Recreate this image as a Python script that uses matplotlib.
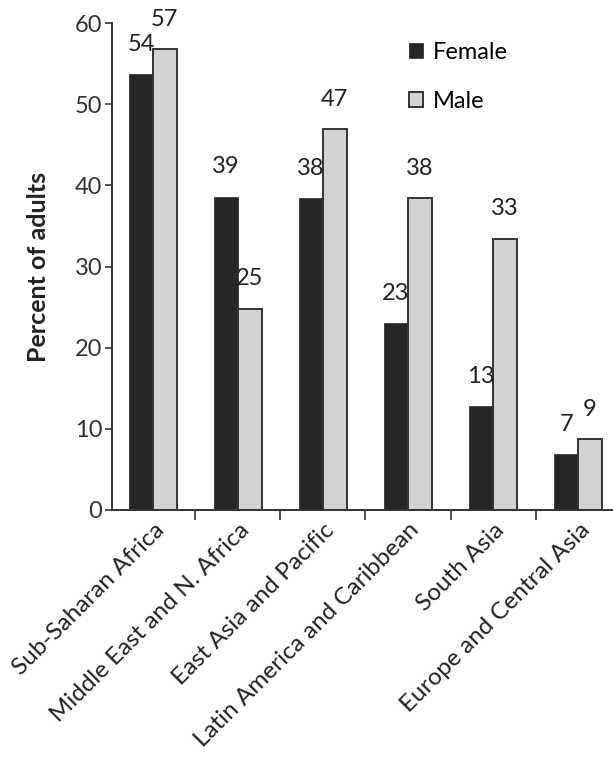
import numpy as np
import matplotlib
matplotlib.use("Agg")
import matplotlib.pyplot as plt
import matplotlib.transforms as mtransforms

plt.rcParams["font.family"] = ["Lato", "DejaVu Sans"]

# data
regions = ["Sub-Saharan Africa", "Middle East and N. Africa", "East Asia and Pacific",
           "Latin America and Caribbean", "South Asia", "Europe and Central Asia"]
female = [53.7, 38.6, 38.4, 23.0, 12.8, 6.9]
male = [56.8, 24.8, 46.9, 38.4, 33.4, 8.7]

fig = plt.figure(figsize=(6.13, 7.58), dpi=100)
ax = fig.add_axes([112 / 613, 1 - 510 / 758, 1 - 112 / 613, (510 - 23) / 758])

x = np.arange(len(regions))
w = 0.28
b1 = ax.bar(x - w / 2, female, w, color="#262626", edgecolor="#262626", linewidth=0.5, label="Female")
b2 = ax.bar(x + w / 2, male, w, color="#d2d2d2", edgecolor="#333333", linewidth=1.4, label="Male")
ax.bar_label(b1, fmt="%.0f", padding=14, fontsize=17, color="#222222")
ax.bar_label(b2, fmt="%.0f", padding=14, fontsize=17, color="#222222")

ax.set_xlim(-0.48, 5.41)
ax.set_ylim(0, 60)
ax.set_yticks(range(0, 61, 10))
ax.tick_params(axis="y", labelsize=17, length=5, width=1.2, colors="#333333", pad=2)

ax.set_xticks(x)
ax.set_xticklabels(regions, rotation=45, ha="right", va="center", rotation_mode="anchor", fontsize=17.5, color="#222222")
ax.tick_params(axis="x", which="major", length=0, pad=12)
shift = mtransforms.ScaledTranslation(8 / 100, 0, fig.dpi_scale_trans)
for lbl in ax.get_xticklabels():
    lbl.set_transform(lbl.get_transform() + shift)
ax.set_xticks(x[:-1] + 0.5, minor=True)
ax.tick_params(axis="x", which="minor", length=7, width=1.2, colors="#333333")

for s in ["top", "right"]:
    ax.spines[s].set_visible(False)
for s in ["left", "bottom"]:
    ax.spines[s].set_linewidth(1.4)
    ax.spines[s].set_color("#333333")

ax.set_ylabel("Percent of adults", fontsize=18, fontweight="bold", color="#222222", labelpad=18)

leg = ax.legend(loc="upper left", bbox_to_anchor=(0.55, 1.005), frameon=False, fontsize=17,
                handlelength=0.6, handleheight=0.6, handletextpad=0.4, labelspacing=1.2)

fig.savefig("out.png", dpi=100)
